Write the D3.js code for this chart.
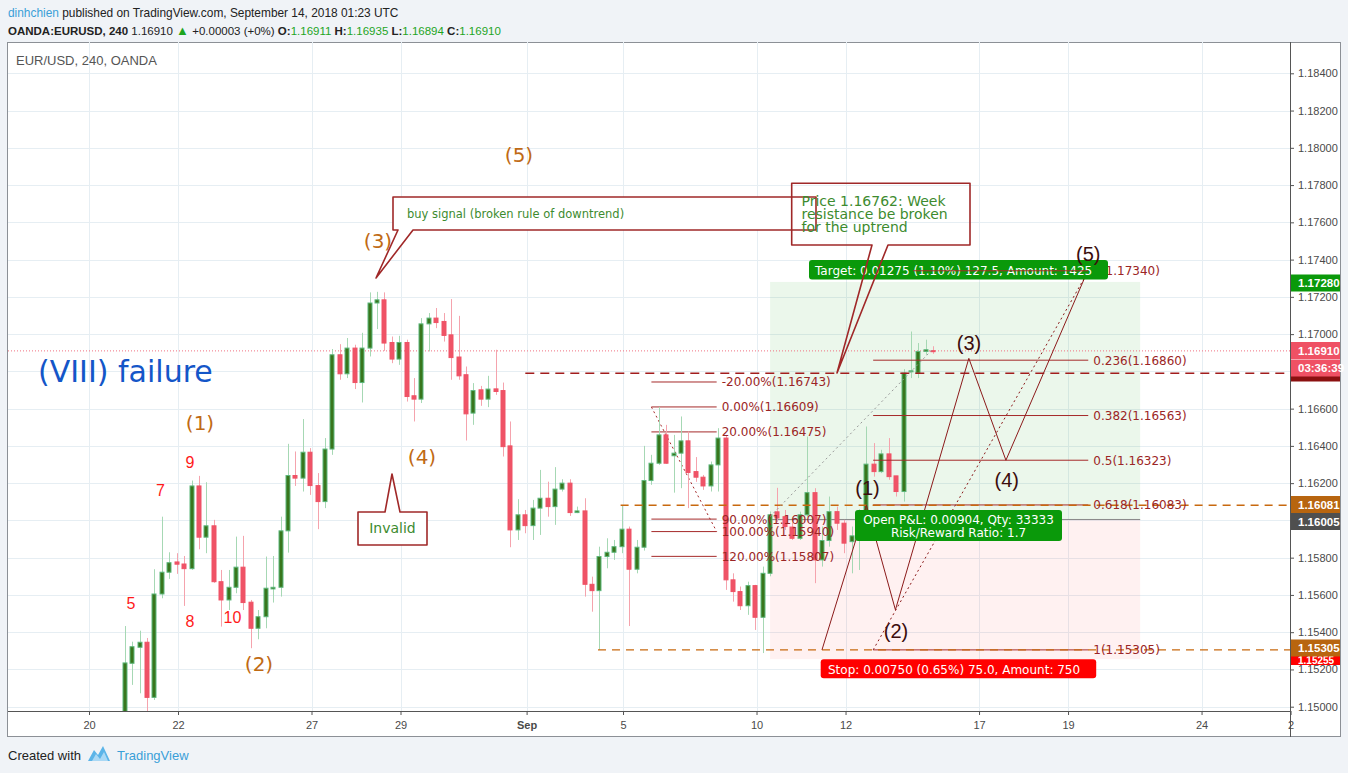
<!DOCTYPE html>
<html><head><meta charset="utf-8">
<script src="https://cdn.jsdelivr.net/npm/d3@7"></script>
<style>body{margin:0;background:#f0f3f7;}svg{display:block;}</style>
</head><body>
<svg id="c" width="1348" height="773"></svg>
<script>
// ---------------- DATA ----------------
const firstIndex = 5; // candle index of first visible 4h bar (index 0 = Aug 20 00:00)
const opens  = [1.14955,1.15233,1.15319,1.15346,1.15050,1.15605,1.15722,1.15777,1.15766,1.15741,1.16185,1.15910,1.15971,1.15671,1.15573,1.15641,1.15749,1.15561,1.15421,1.15483,1.15632,1.15641,1.15944,1.16241,1.16227,1.16366,1.16187,1.16101,1.16383,1.16889,1.16787,1.16925,1.16740,1.16925,1.17167,1.17184,1.16955,1.16866,1.16955,1.16669,1.16651,1.17055,1.17086,1.17068,1.16996,1.16877,1.16782,1.16576,1.16701,1.16651,1.16706,1.16697,1.16400,1.15949,1.16030,1.15972,1.16066,1.16119,1.16074,1.16168,1.16200,1.16042,1.16051,1.15657,1.15623,1.15806,1.15829,1.15859,1.15953,1.15738,1.15856,1.16214,1.16307,1.16459,1.16347,1.16361,1.16427,1.16262,1.16232,1.16185,1.16298,1.16442,1.15681,1.15618,1.15542,1.15650,1.15480,1.15716,1.16046,1.16020,1.15964,1.15904,1.16030,1.16149,1.15788,1.15892,1.16047,1.15985,1.15886,1.15917,1.16046,1.16302,1.16262,1.16357,1.16239,1.16155,1.16798,1.16791,1.16907,1.16911];
const highs  = [1.15433,1.15349,1.15408,1.15369,1.15738,1.16020,1.15829,1.15824,1.15809,1.16214,1.16239,1.16205,1.16003,1.15734,1.15734,1.15913,1.15917,1.15573,1.15519,1.15806,1.15809,1.16020,1.16411,1.16370,1.16544,1.16388,1.16254,1.16442,1.16920,1.16946,1.16979,1.16943,1.17007,1.17224,1.17227,1.17224,1.16987,1.16991,1.16970,1.16764,1.17086,1.17113,1.17140,1.17113,1.17188,1.17098,1.16826,1.16737,1.16722,1.16776,1.16916,1.16740,1.16531,1.16114,1.16056,1.16110,1.16271,1.16208,1.16286,1.16221,1.16221,1.16074,1.16119,1.15698,1.15859,1.15904,1.15895,1.16081,1.15967,1.15895,1.16400,1.16352,1.16609,1.16513,1.16459,1.16558,1.16477,1.16340,1.16244,1.16316,1.16495,1.16459,1.15716,1.15645,1.15671,1.15654,1.15752,1.16048,1.16175,1.16056,1.15987,1.16047,1.16450,1.16173,1.15967,1.16128,1.16074,1.16003,1.15967,1.16060,1.16504,1.16415,1.16379,1.16442,1.16239,1.16812,1.17014,1.16952,1.16970,1.16935];
const lows   = [1.14930,1.15117,1.15072,1.14972,1.15036,1.15582,1.15686,1.15713,1.15541,1.15735,1.15845,1.15824,1.15665,1.15430,1.15519,1.15609,1.15519,1.15314,1.15362,1.15421,1.15559,1.15591,1.15827,1.16185,1.16155,1.16137,1.15953,1.16066,1.16352,1.16755,1.16764,1.16705,1.16633,1.16880,1.17027,1.16910,1.16844,1.16835,1.16638,1.16531,1.16630,1.16907,1.17032,1.16960,1.16755,1.16755,1.16429,1.16513,1.16615,1.16608,1.16674,1.16343,1.15856,1.15895,1.15931,1.15895,1.15922,1.16020,1.15976,1.16155,1.16024,1.16039,1.15591,1.15510,1.15305,1.15743,1.15788,1.15824,1.15433,1.15716,1.15838,1.16191,1.16298,1.16304,1.16149,1.16173,1.16066,1.16207,1.16164,1.16155,1.16155,1.15627,1.15564,1.15519,1.15493,1.15412,1.15288,1.15700,1.15992,1.15949,1.15895,1.15895,1.16020,1.15663,1.15752,1.15859,1.15949,1.15824,1.15716,1.15734,1.16030,1.16235,1.16254,1.16218,1.16128,1.16101,1.16764,1.16764,1.16889,1.16894];
const closes = [1.15235,1.15322,1.15346,1.15050,1.15605,1.15722,1.15773,1.15765,1.15741,1.16185,1.15910,1.15971,1.15671,1.15573,1.15641,1.15749,1.15559,1.15421,1.15483,1.15636,1.15641,1.15944,1.16241,1.16227,1.16366,1.16187,1.16101,1.16383,1.16889,1.16787,1.16925,1.16740,1.16925,1.17167,1.17184,1.16952,1.16866,1.16955,1.16665,1.16651,1.17055,1.17086,1.17062,1.16993,1.16874,1.16776,1.16572,1.16697,1.16651,1.16705,1.16692,1.16396,1.15949,1.16030,1.15972,1.16066,1.16119,1.16074,1.16168,1.16200,1.16042,1.16051,1.15657,1.15623,1.15806,1.15829,1.15859,1.15953,1.15738,1.15856,1.16214,1.16307,1.16459,1.16307,1.16361,1.16427,1.16257,1.16232,1.16185,1.16298,1.16442,1.15681,1.15618,1.15542,1.15650,1.15480,1.15716,1.16030,1.16013,1.15967,1.15904,1.16030,1.16149,1.15788,1.15892,1.16047,1.15985,1.15878,1.15917,1.16046,1.16302,1.16262,1.16357,1.16235,1.16155,1.16791,1.16803,1.16907,1.16916,1.16910];

const priceTicks = d3.range(0, 18).map(k => +(1.150 + k * 0.002).toFixed(3));
const hiddenTicks = [1.168, 1.160]; // covered by price labels in the reference
const dateTickIdx = [0, 12, 30, 42, 59, 72, 90, 102, 120, 132, 150, 162];
const dateTickLabels = ["20", "22", "27", "29", "Sep", "5", "10", "12", "17", "19", "24", "2"];

// drawings (index, price)
const lastPrice = 1.16910;
const resistLevel = 1.1679;        // dashed dark red
const orangeLevels = [[71.85, 1.16081], [68.8, 1.15305]];
const leftFibLevels = [["-20.00%", 1.16743], ["0.00%", 1.16609], ["20.00%", 1.16475], ["90.00%", 1.16007], ["100.00%", 1.15940], ["120.00%", 1.15807]];
const leftFibSpan = [76, 84.8];
const leftFibTrend = [[76, 1.16609], [84.8, 1.15940]];
const rightFibLevels = [["0", 1.17340], ["0.236", 1.16860], ["0.382", 1.16563], ["0.5", 1.16323], ["0.618", 1.16083], ["1", 1.15305]];
const rightFibSpan = [105.9, 134.9];
const position = {from: 92, to: 141.9, entry: 1.16005, target: 1.17280, stop: 1.15255};
const wavePoints = [[99, 1.15305], [105, 1.16081], [108.9, 1.1552], [118.8, 1.1687], [123.8, 1.16323], [134.5, 1.1731]];
const waveDotted = [[105.9, 1.15305], [134.5, 1.1731]];
const greyTrend = [[92, 1.16020], [113.8, 1.16914]];

// ---------------- SCALES ----------------
const svg = d3.select("#c");
const P = {l: 8, r: 1290, t: 42, b: 711};
const x = d3.scaleLinear().domain([0, 100]).range([87.7, 829.4]);
const y = d3.scaleLinear().domain([1.150, 1.184]).range([706.7, 73.3]);
const F = "DejaVu Sans, Verdana, sans-serif";
const A = "Liberation Sans, Arial, sans-serif";

svg.append("rect").attr("width", 1348).attr("height", 773).attr("fill", "#f0f3f7");
svg.append("rect").attr("x", 7.5).attr("y", 42.5).attr("width", 1333).attr("height", 694).attr("fill", "#fff").attr("stroke", "#8c9096");

// header
const h1 = svg.append("text").attr("x", 8).attr("y", 16.5).attr("font-family", A).attr("font-size", 11.9).attr("fill", "#222");
h1.append("tspan").attr("fill", "#3a9fd8").text("dinhchien");
h1.append("tspan").text(" published on TradingView.com, September 14, 2018 01:23 UTC");
const h2 = svg.append("text").attr("x", 8).attr("y", 34.5).attr("font-family", A).attr("font-size", 11.5).attr("fill", "#222");
h2.append("tspan").attr("font-weight", "bold").text("OANDA:EURUSD, 240");
h2.append("tspan").text("  1.16910 ");
h2.append("tspan").attr("fill", "#1ea51e").attr("font-size", 13).text("▲");
h2.append("tspan").text(" +0.00003 (+0%) ");
[["O:", "1.16911"], ["H:", "1.16935"], ["L:", "1.16894"], ["C:", "1.16910"]].forEach(([k, v], i) => {
  h2.append("tspan").attr("font-weight", "bold").text((i ? " " : "") + k);
  h2.append("tspan").attr("fill", "#1ea51e").text(v);
});

svg.append("clipPath").attr("id", "pc").append("rect").attr("x", P.l).attr("y", P.t).attr("width", P.r - P.l).attr("height", P.b - P.t);
const g = svg.append("g").attr("clip-path", "url(#pc)");

// grid
g.selectAll(".hg").data(priceTicks).join("line").attr("x1", P.l).attr("x2", P.r)
  .attr("y1", d => Math.round(y(d)) + 0.5).attr("y2", d => Math.round(y(d)) + 0.5).attr("stroke", "#e6eef3");
g.selectAll(".vg").data(dateTickIdx).join("line").attr("y1", P.t).attr("y2", P.b)
  .attr("x1", d => Math.round(x(d) + 1.3) + 0.5).attr("x2", d => Math.round(x(d) + 1.3) + 0.5).attr("stroke", "#e6eef3");

text(38, 382, "(VIII) failure", {size: 30, fill: "#1456c8", family: F});

// position zones
g.append("rect").attr("x", x(position.from)).attr("width", x(position.to) - x(position.from))
  .attr("y", y(position.target)).attr("height", y(position.entry) - y(position.target)).attr("fill", "rgba(0,150,0,0.08)");
g.append("rect").attr("x", x(position.from)).attr("width", x(position.to) - x(position.from))
  .attr("y", y(position.entry)).attr("height", y(position.stop) - y(position.entry)).attr("fill", "rgba(255,0,0,0.055)");
g.append("line").attr("x1", x(position.from)).attr("x2", x(position.to)).attr("y1", y(position.entry)).attr("y2", y(position.entry)).attr("stroke", "#888");

// last price line
g.append("line").attr("x1", P.l).attr("x2", P.r).attr("y1", y(lastPrice)).attr("y2", y(lastPrice))
  .attr("stroke", "#f07080").attr("stroke-dasharray", "1,2");

// left fib
const FIBC = "#a52a2a";
leftFibLevels.forEach(([lab, v]) => {
  g.append("line").attr("x1", x(leftFibSpan[0])).attr("x2", x(leftFibSpan[1])).attr("y1", y(v)).attr("y2", y(v)).attr("stroke", FIBC);
});
line(leftFibTrend, "#a52a2a", "2,3");

// candles
const cw = 5;
const cg = g.append("g");
opens.forEach((o, k) => {
  const i = firstIndex + k, c = closes[k], hi = highs[k], lo = lows[k];
  const up = c >= o;
  const cx = Math.round(x(i));
  cg.append("line").attr("x1", cx + 0.5).attr("x2", cx + 0.5).attr("y1", y(hi)).attr("y2", y(lo))
    .attr("stroke", up ? "#a6d8b4" : "#f5a3ad");
  const top = y(Math.max(o, c)), bot = y(Math.min(o, c));
  cg.append("rect").attr("x", cx - 2).attr("width", cw - 1).attr("y", top).attr("height", Math.max(1, bot - top))
    .attr("fill", up ? "#38761d" : "#ef5366").attr("stroke", up ? "#5db77c" : "#ef5366").attr("stroke-width", 1);
});

// right fib
rightFibLevels.forEach(([lab, v]) => {
  g.append("line").attr("x1", x(rightFibSpan[0])).attr("x2", x(rightFibSpan[1])).attr("y1", y(v)).attr("y2", y(v)).attr("stroke", FIBC);
});

// dashed levels
g.append("line").attr("x1", x(59)).attr("x2", P.r).attr("y1", y(resistLevel)).attr("y2", y(resistLevel))
  .attr("stroke", "#a11d1d").attr("stroke-width", 1.6).attr("stroke-dasharray", "9,6");
orangeLevels.forEach(([i0, v]) => {
  g.append("line").attr("x1", x(i0)).attr("x2", P.r).attr("y1", y(v)).attr("y2", y(v))
    .attr("stroke", "#c8690f").attr("stroke-width", 1.4).attr("stroke-dasharray", "8,6");
});

// trend lines
line(greyTrend, "#999", "2,3");
line(wavePoints, "#8b1a1a", null);
line(waveDotted, "#8b1a1a", "2,3");

// fib labels
leftFibLevels.forEach(([lab, v]) => text(721.7, y(v) + 4.5, `${lab}(${v.toFixed(5)})`, {size: 12, fill: "#9b2525", family: F}));
rightFibLevels.forEach(([lab, v]) => text(1093.3, y(v) + 4.5, `${lab}(${v.toFixed(5)})`, {size: 12, fill: "#9b2525", family: F}));

// boxes of position tool
box(809, 260, 299, 19.5, "#0a990a");
text(815, 274.5, "Target: 0.01275 (1.10%) 127.5, Amount: 1425", {size: 12, fill: "#fff", family: F});
// fib 0-level line visible across the target box
svg.append("line").attr("x1", 913).attr("x2", x(rightFibSpan[1])).attr("y1", y(1.17340)).attr("y2", y(1.17340)).attr("stroke", FIBC);
box(855, 510, 207, 31, "#0a990a");
text(958.5, 523.5, "Open P&L: 0.00904, Qty: 33333", {size: 12, fill: "#fff", family: F, anchor: "middle"});
text(958.5, 536.5, "Risk/Reward Ratio: 1.7", {size: 12, fill: "#fff", family: F, anchor: "middle"});
box(820.7, 659.3, 275.5, 19, "#ff0000");
text(828, 673.5, "Stop: 0.00750 (0.65%) 75.0, Amount: 750", {size: 12, fill: "#fff", family: F});

// callouts
callout([[393, 197], [816, 197], [816, 230], [413, 230], [376, 278], [398, 230], [393, 230]], "#fff");
text(407, 218, "buy signal (broken rule of downtrend)", {size: 11.5, fill: "#3d8b2f", family: F});
callout([[791.7, 183.3], [970, 183.3], [970, 245], [888, 245], [837, 373], [872, 245], [791.7, 245]], "none");
["Price 1.16762: Week", "resistance be broken", "for the uptrend"].forEach((t, k) =>
  text(801.5, 205.5 + k * 13.4, t, {size: 14, fill: "#3d8b2f", family: F}));
callout([[358, 512], [385, 512], [392, 474], [400, 512], [427, 512], [427, 545], [358, 545]], "#fff");
text(392.5, 532.5, "Invalid", {size: 14, fill: "#3d8b2f", family: F, anchor: "middle"});

// orange wave labels
[["(1)", 200, 423], ["(2)", 259, 664], ["(3)", 378, 241], ["(4)", 422, 457], ["(5)", 519, 155]].forEach(([t, px, py]) =>
  text(px, py + 7, t, {size: 20, fill: "#bf6a14", family: F, anchor: "middle"}));
// red counts
[["5", 131, 603], ["7", 160.5, 490], ["9", 190, 462], ["8", 190, 621], ["10", 232.5, 617]].forEach(([t, px, py]) =>
  text(px, py + 6, t, {size: 16, fill: "#ff1a1a", family: A, anchor: "middle"}));
// dark wave labels
[["(1)", 867.5, 488.3], ["(2)", 896, 630.7], ["(3)", 969, 342.5], ["(4)", 1006.7, 480], ["(5)", 1088.3, 254]].forEach(([t, px, py]) =>
  text(px, py + 7, t, {size: 20, fill: "#3b0d0d", family: A, anchor: "middle"}));

text(16, 65, "EUR/USD, 240, OANDA", {size: 13, fill: "#555", family: A});

// ---- axes ----
svg.append("line").attr("x1", P.r + 0.5).attr("x2", P.r + 0.5).attr("y1", 42).attr("y2", 737).attr("stroke", "#555");
svg.append("line").attr("x1", 8).attr("x2", P.r).attr("y1", P.b + 0.5).attr("y2", P.b + 0.5).attr("stroke", "#555");
const ya = svg.append("g").attr("transform", `translate(${P.r},0)`)
  .call(d3.axisRight(y).tickValues(priceTicks).tickFormat(d => hiddenTicks.includes(d) ? "" : d3.format(".5f")(d)).tickSize(4).tickPadding(4));
ya.select(".domain").remove();
ya.selectAll("text").attr("font-family", A).attr("font-size", 11).attr("fill", "#4a4a4a");
ya.selectAll("line").attr("stroke", "#555");
const xa = svg.append("g").attr("transform", `translate(1.3,${P.b})`)
  .call(d3.axisBottom(x).tickValues(dateTickIdx).tickFormat((d, i) => dateTickLabels[i]).tickSize(4).tickPadding(6));
xa.select(".domain").remove();
xa.selectAll("text").attr("font-family", A).attr("font-size", 11).attr("fill", "#4a4a4a")
  .attr("font-weight", (d, i) => dateTickLabels[i] === "Sep" ? "bold" : null);
xa.selectAll("line").attr("stroke", "#555");

// price labels
axisLabel("", "#8b1010", 373);
axisLabel("1.16910", "#ef5164", 350.5);
axisLabel("03:36:39", "#ef5164", 368);
axisLabel("1.17280", "#0a990a", 283);
axisLabel("1.15255", "#ff0000", 656.5, 10, 663.5);
axisLabel("1.15305", "#b8650f", 648);
axisLabel("1.16081", "#b8650f", 504.5);
axisLabel("1.16005", "#4f4f4f", 521.5);

// footer
text(8, 760, "Created with", {size: 13, fill: "#222", family: A});
svg.append("path").attr("d", "M88,761 L94,750 L98,755 L103,746 L110,761 Z").attr("fill", "#5bb4e8");
svg.append("path").attr("d", "M92,761 L96,754 L100,759 L104,752 L108,761 Z").attr("fill", "#a9d8f5");
text(117, 760, "TradingView", {size: 13, fill: "#3a9fd8", family: A});

// ---------------- helpers ----------------
function text(px, py, t, o) {
  return svg.append("text").attr("x", px).attr("y", py).attr("font-family", o.family || A).attr("font-size", o.size)
    .attr("fill", o.fill).attr("text-anchor", o.anchor || "start").text(t);
}
function line(pts, color, dash) {
  g.append("path").attr("d", d3.line().x(d => x(d[0])).y(d => y(d[1]))(pts)).attr("fill", "none")
    .attr("stroke", color).attr("stroke-width", 1).attr("stroke-dasharray", dash);
}
function box(bx, by, w, h, fill) {
  svg.append("rect").attr("x", bx).attr("y", by).attr("width", w).attr("height", h).attr("rx", 3).attr("fill", fill);
}
function callout(pts, fill) {
  svg.append("path").attr("d", d3.line().curve(d3.curveLinearClosed)(pts)).attr("fill", fill)
    .attr("stroke", "#a02828").attr("stroke-width", 1.6).attr("stroke-linejoin", "round");
}
function axisLabel(t, fill, cy, fs, base) {
  svg.append("rect").attr("x", P.r + 1).attr("y", cy - 8.5).attr("width", 49).attr("height", 17).attr("fill", fill);
  if (t) svg.append("text").attr("x", P.r + 8).attr("y", base || cy + 4).attr("font-family", A).attr("font-size", fs || 11.5)
    .attr("font-weight", "bold").attr("fill", "#fff").text(t);
}
</script></body></html>
